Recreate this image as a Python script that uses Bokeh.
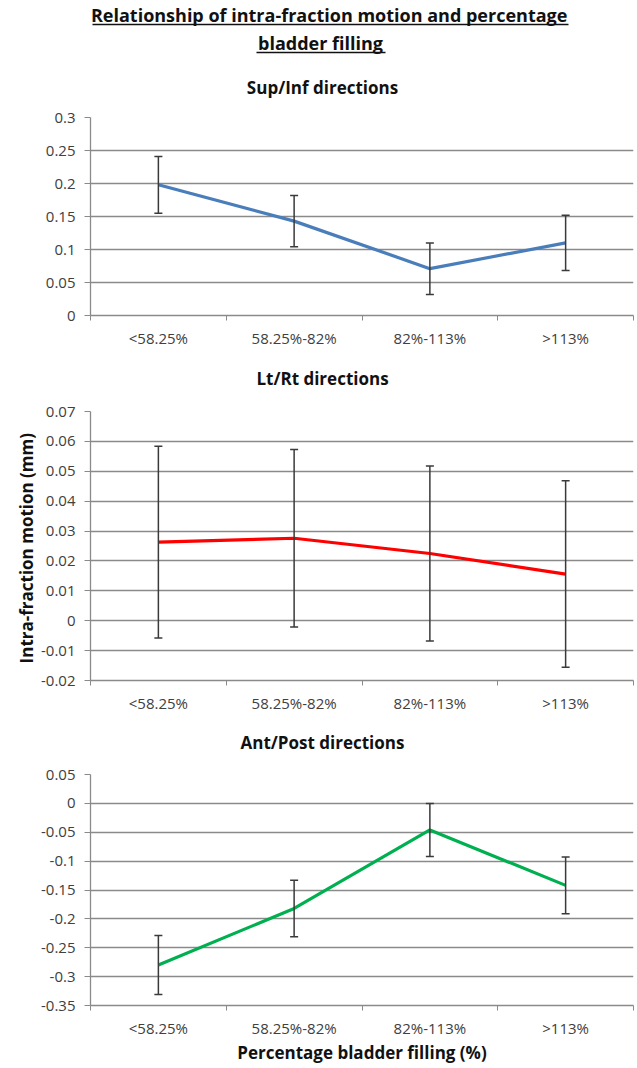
from bokeh.plotting import figure
from bokeh.models import (ColumnDataSource, Whisker, TeeHead, FixedTicker,
                          CustomJSTickFormatter, Range1d, Label, Arrow)
from bokeh.layouts import column
from bokeh.embed import file_html
from bokeh.resources import INLINE

FONT = "Open Sans"

# ---------------- data ----------------
title_lines = ["Relationship of intra-fraction  motion and percentage", "bladder filling"]
categories = ["<58.25%", "58.25%-82%", "82%-113%", ">113%"]

sup_inf = [0.198, 0.143, 0.071, 0.110]
sup_inf_err = [0.043, 0.039, 0.039, 0.042]
sup_inf_ticks = [0, 0.05, 0.1, 0.15, 0.2, 0.25, 0.3]

lt_rt = [0.0263, 0.0276, 0.0225, 0.0156]
lt_rt_err = [0.0321, 0.0297, 0.0293, 0.0312]
lt_rt_ticks = [-0.02, -0.01, 0, 0.01, 0.02, 0.03, 0.04, 0.05, 0.06, 0.07]

ant_post = [-0.280, -0.182, -0.046, -0.142]
ant_post_err = [0.051, 0.049, 0.046, 0.049]
ant_post_ticks = [-0.35, -0.3, -0.25, -0.2, -0.15, -0.1, -0.05, 0, 0.05]

subtitles = ["Sup/Inf directions", "Lt/Rt directions", "Ant/Post directions"]
y_label = "Intra-fraction  motion (mm)"
x_label = "Percentage bladder filling (%)"

GRID = "#8a8a8a"
TICKTXT = "#404040"
INK = "#111111"
W = 637
BL, BR = 90, 4          # same side borders for every figure -> frame spans page x 90..633
FX0, FX1 = BL, W - BR


def strip(top, bottom):
    """A text-only figure whose data coordinates equal page pixel coordinates."""
    s = figure(width=W, height=bottom - top, output_backend="svg", toolbar_location=None,
               x_range=Range1d(FX0, FX1), y_range=Range1d(bottom, top),
               min_border_left=BL, min_border_right=BR, min_border_top=0, min_border_bottom=0)
    s.axis.visible = False
    s.grid.visible = False
    s.outline_line_color = None
    return s


def add_text(s, x, y, txt, size):
    s.add_layout(Label(x=x, y=y, text=txt, text_align="center", text_baseline="middle",
                       text_font=FONT, text_font_size=size, text_font_style="bold",
                       text_color=INK))


def add_underline(s, x0, x1, y):
    s.add_layout(Arrow(end=None, x_start=x0, y_start=y, x_end=x1, y_end=y,
                       line_color=INK, line_width=1.3))


def panel(vals, errs, color, yticks, height, b_top, b_bottom, ylabel=None, xlabel=None):
    xs = [i + 1 for i in range(len(categories))]
    p = figure(width=W, height=height, output_backend="svg", toolbar_location=None,
               x_range=Range1d(0.5, len(categories) + 0.5),
               y_range=Range1d(yticks[0], yticks[-1]),
               min_border_left=BL, min_border_right=BR,
               min_border_top=b_top, min_border_bottom=b_bottom)
    p.outline_line_color = None

    xa = p.xaxis[0]
    xa.ticker = FixedTicker(ticks=xs, minor_ticks=[x - 0.5 for x in xs] + [xs[-1] + 0.5])
    xa.major_label_overrides = {x: c for x, c in zip(xs, categories)}
    xa.major_tick_out = 0
    xa.major_tick_in = 0
    xa.minor_tick_out = 5
    xa.minor_tick_in = 0
    xa.minor_tick_line_color = GRID
    xa.axis_line_color = GRID
    xa.axis_line_width = 1.3
    xa.major_label_text_font = FONT
    xa.major_label_text_font_size = "15px"
    xa.major_label_text_color = TICKTXT
    xa.major_label_standoff = 7

    ya = p.yaxis[0]
    ya.ticker = FixedTicker(ticks=yticks, minor_ticks=[])
    ya.formatter = CustomJSTickFormatter(code="return String(Math.round(tick*1000)/1000);")
    ya.major_tick_out = 6
    ya.major_tick_in = 0
    ya.minor_tick_out = 0
    ya.major_tick_line_color = GRID
    ya.axis_line_color = GRID
    ya.axis_line_width = 1.3
    ya.major_label_text_font = FONT
    ya.major_label_text_font_size = "15px"
    ya.major_label_text_color = TICKTXT
    ya.major_label_standoff = 9

    p.xgrid.visible = False
    p.ygrid.ticker = FixedTicker(ticks=yticks)
    p.ygrid.grid_line_color = GRID
    p.ygrid.grid_line_width = 1.3

    if ylabel:
        ya.axis_label = ylabel
        ya.axis_label_text_font = FONT
        ya.axis_label_text_font_size = "17px"
        ya.axis_label_text_font_style = "bold"
        ya.axis_label_text_color = INK
        ya.axis_label_standoff = 0
    if xlabel:
        xa.axis_label = xlabel
        xa.axis_label_text_font = FONT
        xa.axis_label_text_font_size = "17px"
        xa.axis_label_text_font_style = "bold"
        xa.axis_label_text_color = INK
        xa.axis_label_standoff = 0

    src = ColumnDataSource(dict(
        x=xs, y=vals,
        upper=[v + e for v, e in zip(vals, errs)],
        lower=[v - e for v, e in zip(vals, errs)],
    ))
    p.line("x", "y", source=src, line_color=color, line_width=3.2)
    wh = Whisker(source=src, base="x", upper="upper", lower="lower",
                 line_color="#3a3a3a", line_width=1.5, level="annotation",
                 upper_head=TeeHead(size=8, line_color="#3a3a3a", line_width=1.5),
                 lower_head=TeeHead(size=8, line_color="#3a3a3a", line_width=1.5))
    p.add_layout(wh)
    return p


# header + first subtitle (page y 0..100)
hdr = strip(0, 100)
add_text(hdr, 331, 14, title_lines[0], "18px")
add_text(hdr, 320, 42, title_lines[1], "18px")
add_underline(hdr, 92, 568, 24)
add_underline(hdr, 256, 385, 52)
add_text(hdr, 322, 87, subtitles[0], "17px")

p1 = panel(sup_inf, sup_inf_err, "#4a7ebb", sup_inf_ticks,
           height=252, b_top=17, b_bottom=37)          # page 100..352

s2 = strip(352, 395)
add_text(s2, 322, 378, subtitles[1], "17px")

p2 = panel(lt_rt, lt_rt_err, "#ff0000", lt_rt_ticks,
           height=321, b_top=16, b_bottom=36, ylabel=y_label)   # page 395..716

s3 = strip(716, 758)
add_text(s3, 322, 742, subtitles[2], "17px")

p3 = panel(ant_post, ant_post_err, "#00b050", ant_post_ticks,
           height=308, b_top=16, b_bottom=59, xlabel=x_label)   # page 758..1066

layout = column(hdr, p1, s2, p2, s3, p3, spacing=0)
open("out.html", "w").write(file_html(layout, INLINE))
